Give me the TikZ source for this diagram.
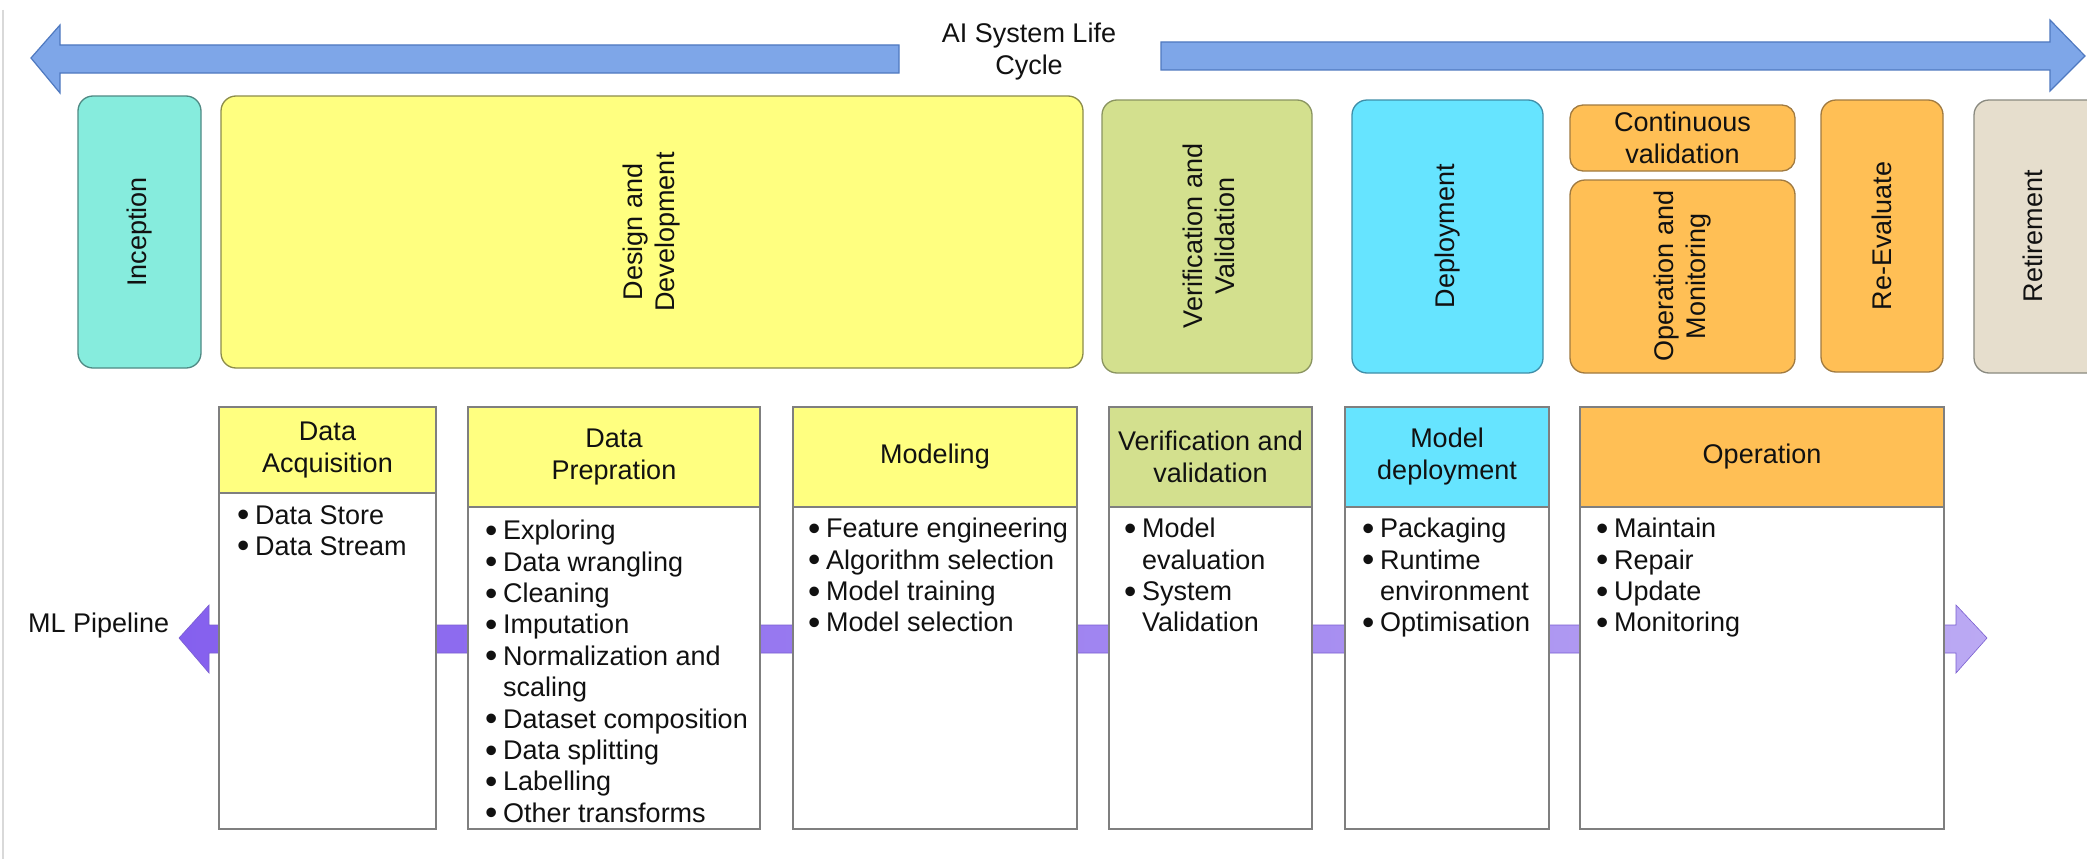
\documentclass[tikz,border=0pt]{standalone}
\usepackage{fontspec}
\usepackage{graphicx}
\setmainfont{Liberation Sans}
\usetikzlibrary{shapes.geometric}
\definecolor{cArrow}{HTML}{7EA6E8}
\definecolor{cArrowD}{HTML}{4F79C0}
\definecolor{cInc}{HTML}{86ECDD}
\definecolor{cIncD}{HTML}{4F8A84}
\definecolor{cYel}{HTML}{FFFF80}
\definecolor{cYelD}{HTML}{8C8C4A}
\definecolor{cVV}{HTML}{D3E08E}
\definecolor{cVVD}{HTML}{8A9460}
\definecolor{cDep}{HTML}{66E4FF}
\definecolor{cDepD}{HTML}{3F8EA8}
\definecolor{cOra}{HTML}{FFBF55}
\definecolor{cOraD}{HTML}{A07A40}
\definecolor{cRet}{HTML}{E6DECD}
\definecolor{cRetD}{HTML}{8A8A80}
\definecolor{cPurL}{HTML}{8560EE}
\definecolor{cPurR}{HTML}{BBA9F3}
\definecolor{cPurD}{HTML}{7A5FD0}
\definecolor{cBox}{HTML}{7F7F7F}
\definecolor{cTxt}{HTML}{111111}
\newcommand\cbul{\hbox to 18pt{\raisebox{-0.09em}{\scalebox{1.3}{\textbullet}}\hss}}
\newcommand\cind{\hbox to 18pt{\hss}}
\begin{document}
\begin{tikzpicture}[x=1pt,y=-1pt,
  phase/.style={rounded corners=15pt, line width=1.3pt},
  pbox/.style={draw=cBox, line width=1.3pt},
  txt/.style={inner sep=0pt, text=cTxt, align=center, font=\fontsize{27}{32}\selectfont},
  vtext/.style={txt, rotate=90},
  blist/.style={inner sep=0pt, text=cTxt, align=left, anchor=north west, font=\fontsize{27}{31.4}\selectfont},
  bigarrow/.style={fill=cArrow, draw=cArrowD, line width=1.2pt}
]
\useasboundingbox (0,0) rectangle (2087,859);
\fill[white] (0,0) rectangle (2087,859);
\draw[black!15, line width=1.5pt] (3,10) -- (3,859);

% top life-cycle arrows
\draw[bigarrow] (31,58) -- (60,25) -- (60,45) -- (899,45) -- (899,73) -- (60,73) -- (60,93) -- cycle;
\draw[bigarrow] (1161,42) -- (2050,42) -- (2050,20) -- (2085,56) -- (2050,91) -- (2050,70) -- (1161,70) -- cycle;
\node[txt] (lifecycle) at (1029,52) {AI System Life\\Cycle};

% life-cycle phases
\draw[phase, fill=cInc, draw=cIncD] (78,96) rectangle (201,368);
\node[vtext] (inception) at (139.5,232) {Inception};
\draw[phase, fill=cYel, draw=cYelD] (221,96) rectangle (1083,368);
\node[vtext] (design) at (651.5,232) {Design and\\Development};
\draw[phase, fill=cVV, draw=cVVD] (1102,100) rectangle (1312,373);
\node[vtext] (verif) at (1209,236) {Verification and\\Validation};
\draw[phase, fill=cDep, draw=cDepD] (1352,100) rectangle (1543,373);
\node[vtext] (deploy) at (1447,236) {Deployment};
\draw[phase, rounded corners=13pt, fill=cOra, draw=cOraD] (1570,105) rectangle (1795,171);
\node[txt] (contval) at (1682.5,138) {Continuous\\validation};
\draw[phase, fill=cOra, draw=cOraD] (1570,180) rectangle (1795,373);
\node[vtext] (opmon) at (1682.5,276) {Operation and\\Monitoring};
\draw[phase, fill=cOra, draw=cOraD] (1821,100) rectangle (1943,372);
\node[vtext] (reeval) at (1882,236) {Re-Evaluate};
\draw[phase, fill=cRet, draw=cRetD] (1974,100) rectangle (2110,373);
\node[vtext] (retire) at (2033,236) {Retirement};

% ML pipeline arrow
\draw[left color=cPurL, right color=cPurR, draw=cPurD, line width=0.6pt]
  (179,638) -- (209,605) -- (209,625) -- (1956,625) -- (1956,605) -- (1987,638)
  -- (1956,673) -- (1956,653) -- (209,653) -- (209,673) -- cycle;
\node[txt, anchor=west] (mlpipe) at (28,626) {ML Pipeline};

% pipeline stages
\draw[pbox, fill=cYel] (219,407) rectangle (436,493);
\draw[pbox, fill=white] (219,493) rectangle (436,829);
\node[txt] (dah) at (327.5,450) {Data\\Acquisition};
\node[blist] (dal) at (237,505) {\cbul Data Store\\\cbul Data Stream};

\draw[pbox, fill=cYel] (468,407) rectangle (760,507);
\draw[pbox, fill=white] (468,507) rectangle (760,829);
\node[txt] (dph) at (614,457) {Data\\Prepration};
\node[blist] (dpl) at (485,520) {\cbul Exploring\\\cbul Data wrangling\\\cbul Cleaning\\\cbul Imputation\\\cbul Normalization and\\\cind scaling\\\cbul Dataset composition\\\cbul Data splitting\\\cbul Labelling\\\cbul Other transforms};

\draw[pbox, fill=cYel] (793,407) rectangle (1077,507);
\draw[pbox, fill=white] (793,507) rectangle (1077,829);
\node[txt] (modh) at (935,457) {Modeling};
\node[blist] (modl) at (808,518) {\cbul Feature engineering\\\cbul Algorithm selection\\\cbul Model training\\\cbul Model selection};

\draw[pbox, fill=cVV] (1109,407) rectangle (1312,507);
\draw[pbox, fill=white] (1109,507) rectangle (1312,829);
\node[txt] (vvh) at (1210.5,457) {Verification and\\validation};
\node[blist] (vvl) at (1124,518) {\cbul Model\\\cind evaluation\\\cbul System\\\cind Validation};

\draw[pbox, fill=cDep] (1345,407) rectangle (1549,507);
\draw[pbox, fill=white] (1345,507) rectangle (1549,829);
\node[txt] (mdh) at (1447,457) {Model\\deployment};
\node[blist] (mdl) at (1362,518) {\cbul Packaging\\\cbul Runtime\\\cind environment\\\cbul Optimisation};

\draw[pbox, fill=cOra] (1580,407) rectangle (1944,507);
\draw[pbox, fill=white] (1580,507) rectangle (1944,829);
\node[txt] (oph) at (1762,457) {Operation};
\node[blist] (opl) at (1596,518) {\cbul Maintain\\\cbul Repair\\\cbul Update\\\cbul Monitoring};
\end{tikzpicture}
\end{document}
